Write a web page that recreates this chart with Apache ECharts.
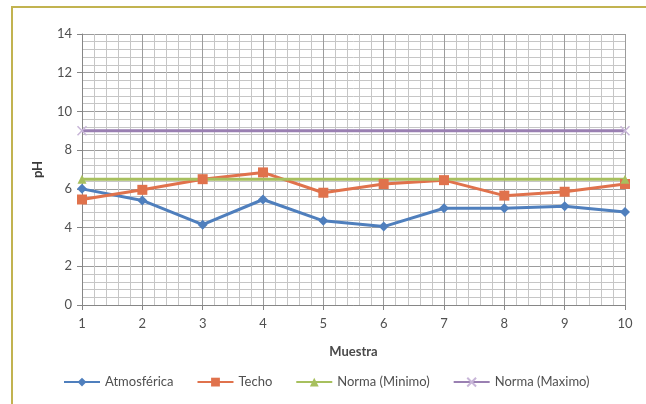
<!DOCTYPE html>
<html>
<head>
<meta charset="utf-8">
<script src="https://cdn.jsdelivr.net/npm/echarts@6/dist/echarts.min.js"></script>
<style>
  html, body { margin: 0; padding: 0; background: #ffffff; }
  #chart { width: 646px; height: 404px; }
</style>
</head>
<body>
<div id="chart"></div>
<script>
// pH por muestra
const muestras = [1, 2, 3, 4, 5, 6, 7, 8, 9, 10];
const atmosferica = [6.0, 5.4, 4.15, 5.45, 4.35, 4.05, 5.0, 5.0, 5.1, 4.8];
const techo = [5.45, 5.95, 6.5, 6.85, 5.8, 6.25, 6.45, 5.65, 5.85, 6.25];
const normaMinimo = [6.5, 6.5, 6.5, 6.5, 6.5, 6.5, 6.5, 6.5, 6.5, 6.5];
const normaMaximo = [9, 9, 9, 9, 9, 9, 9, 9, 9, 9];
const yTicks = [0, 2, 4, 6, 8, 10, 12, 14];

const pairs = vals => muestras.map((m, i) => [m, vals[i]]);
// limit lines: markers only stand out at the two ends
const endMarked = (vals, size) => muestras.map((m, i) => ({
  value: [m, vals[i]],
  symbolSize: (i === 0 || i === muestras.length - 1) ? size : 0
}));
const font = 'Lato, "Liberation Sans", sans-serif';
const xMark = 'path://M0,0 L10,10 M10,0 L0,10';

const chart = echarts.init(document.getElementById('chart'), null, { renderer: 'canvas' });

const gridLine = { show: true, lineStyle: { color: '#9c9c9c', width: 1 } };
const minorLine = { show: true, lineStyle: { color: '#c6c6c6', width: 1 } };

chart.setOption({
  backgroundColor: '#ffffff',
  animation: false,
  textStyle: { fontFamily: font },
  graphic: [{
    type: 'rect',
    shape: { x: 12, y: 7, width: 700, height: 500 },
    style: { fill: 'none', stroke: '#c2b350', lineWidth: 2 },
    silent: true
  }],
  grid: { left: 82, right: 21, top: 34, bottom: 99 },
  xAxis: {
    type: 'value',
    min: muestras[0],
    max: muestras[muestras.length - 1],
    interval: 1,
    name: 'Muestra',
    nameLocation: 'middle',
    nameGap: 40,
    nameTextStyle: { fontSize: 13, fontWeight: 'bold', color: '#4a4a4a', fontFamily: font },
    axisLine: { show: true, lineStyle: { color: '#868686', width: 1 } },
    axisTick: { show: true, length: 5, lineStyle: { color: '#868686' } },
    axisLabel: { fontSize: 13, color: '#505050', margin: 12 },
    splitLine: gridLine,
    minorTick: { show: true, splitNumber: 5, length: 0 },
    minorSplitLine: minorLine
  },
  yAxis: {
    type: 'value',
    min: yTicks[0],
    max: yTicks[yTicks.length - 1],
    interval: 2,
    name: 'pH',
    nameLocation: 'middle',
    nameGap: 38,
    nameRotate: 90,
    nameTextStyle: { fontSize: 13, fontWeight: 'bold', color: '#3a3a3a', fontFamily: font },
    axisLine: { show: true, lineStyle: { color: '#868686', width: 1 } },
    axisTick: { show: true, length: 5, lineStyle: { color: '#868686' } },
    axisLabel: { fontSize: 13, color: '#505050', margin: 10 },
    splitLine: gridLine,
    minorTick: { show: true, splitNumber: 5, length: 0 },
    minorSplitLine: minorLine
  },
  legend: {
    bottom: 10,
    left: 58,
    itemWidth: 36,
    itemHeight: 11,
    itemGap: 23,
    textStyle: { fontSize: 13, color: '#505050', fontFamily: font },
    data: ['Atmosférica', 'Techo', 'Norma (Minimo)', 'Norma (Maximo)']
  },
  series: [
    {
      name: 'Atmosférica',
      type: 'line',
      data: pairs(atmosferica),
      symbol: 'diamond',
      symbolSize: 10,
      lineStyle: { color: '#4f7fbd', width: 3 },
      itemStyle: { color: '#4f7fbd' }
    },
    {
      name: 'Techo',
      type: 'line',
      data: pairs(techo),
      symbol: 'rect',
      symbolSize: 10,
      lineStyle: { color: '#e0724c', width: 3 },
      itemStyle: { color: '#e0724c' }
    },
    {
      name: 'Norma (Minimo)',
      type: 'line',
      data: endMarked(normaMinimo, 9),
      symbol: 'triangle',
      lineStyle: { color: '#a7c05e', width: 3 },
      itemStyle: { color: '#a7c05e' }
    },
    {
      name: 'Norma (Maximo)',
      type: 'line',
      data: endMarked(normaMaximo, 9),
      symbol: xMark,
      lineStyle: { color: '#9a80b2', width: 3 },
      itemStyle: { color: 'none', borderColor: '#c8b6d8', borderWidth: 1.5 }
    }
  ]
});
</script>
</body>
</html>
